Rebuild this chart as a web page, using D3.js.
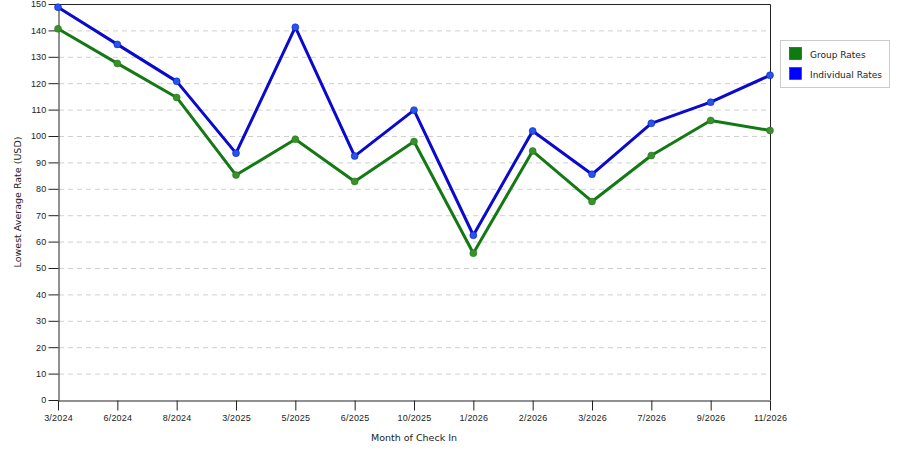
<!DOCTYPE html>
<html>
<head>
<meta charset="utf-8">
<script src="https://cdn.jsdelivr.net/npm/d3@7"></script>
<style>
  body { margin: 0; background: #fff; }
  svg { display: block; font-family: "DejaVu Sans", Verdana, sans-serif; }
  .tick text { font-size: 9px; fill: #222; letter-spacing: 0.2px; }
  .axes-label { font-size: 9.5px; fill: #222; }
  .grid line { stroke: #d0d0d0; stroke-dasharray: 5,4; }
</style>
</head>
<body>
<svg id="chart"></svg>
<script>
// values
const months = ["3/2024", "6/2024", "8/2024", "3/2025", "5/2025", "6/2025", "10/2025",
                "1/2026", "2/2026", "3/2026", "7/2026", "9/2026", "11/2026"];
const groupRates = [140.6, 127.5, 114.6, 85.2, 98.8, 82.8, 97.9, 55.6, 94.3, 75.2, 92.6, 105.9, 102.1];
const individualRates = [148.8, 134.7, 120.7, 93.5, 141.2, 92.4, 109.8, 62.4, 101.9, 85.5, 104.8, 112.8, 123];
const yTicks = d3.range(0, 151, 10);
const seriesNames = ["Group Rates", "Individual Rates"];

const width = 900, height = 450;
const margin = { top: 4, right: 130, bottom: 50, left: 58 };

const svg = d3.select("#chart")
    .attr("width", width)
    .attr("height", height);

const x = d3.scalePoint()
    .domain(months)
    .range([margin.left, width - margin.right]);

const y = d3.scaleLinear()
    .domain([0, 150])
    .range([height - margin.bottom, margin.top]);

// dashed grid
svg.append("g")
    .attr("class", "grid")
    .selectAll("line")
    .data(yTicks.filter(d => d > 0 && d < 150))
    .join("line")
    .attr("x1", margin.left + 1)
    .attr("x2", width - margin.right - 1)
    .attr("y1", d => y(d) + 0.5)
    .attr("y2", d => y(d) + 0.5);

// frame (top + right)
svg.append("path")
    .attr("fill", "none")
    .attr("stroke", "#222")
    .attr("d", `M${margin.left},${y(150) + 0.5}H${width - margin.right + 0.5}V${y(0)}`);

const xAxis = g => g
    .attr("transform", `translate(0,${y(0) + 0.5})`)
    .call(d3.axisBottom(x).tickSize(10).tickPadding(4).tickSizeOuter(0))
    .call(g => g.select(".domain").attr("stroke", "#222"))
    .call(g => g.selectAll(".tick line").attr("stroke", "#222"));

const yAxis = g => g
    .attr("transform", `translate(${margin.left + 0.5},0)`)
    .call(d3.axisLeft(y).tickValues(yTicks).tickSize(10).tickPadding(2).tickSizeOuter(0))
    .call(g => g.select(".domain").attr("stroke", "#222"))
    .call(g => g.selectAll(".tick line").attr("stroke", "#222"));

svg.append("g").call(xAxis);
svg.append("g").call(yAxis);

svg.append("text")
    .attr("class", "axes-label")
    .attr("x", (margin.left + width - margin.right) / 2)
    .attr("y", 441)
    .attr("text-anchor", "middle")
    .text("Month of Check In");

svg.append("text")
    .attr("class", "axes-label")
    .attr("transform", `translate(21,${(y(0) + y(150)) / 2}) rotate(-90)`)
    .attr("text-anchor", "middle")
    .text("Lowest Average Rate (USD)");

const series = [
    { name: seriesNames[0], values: groupRates, line: "#137a13", dot: "#3c8f2a", swatch: "#0f7a0f" },
    { name: seriesNames[1], values: individualRates, line: "#0a0acc", dot: "#2456e8", swatch: "#0000ff" }
];

const line = d3.line()
    .x((d, i) => x(months[i]))
    .y(d => y(d));

series.forEach(s => {
    svg.append("path")
        .datum(s.values)
        .attr("fill", "none")
        .attr("stroke", s.line)
        .attr("stroke-width", 3)
        .attr("stroke-linejoin", "round")
        .attr("d", line);

    svg.append("g")
        .selectAll("circle")
        .data(s.values)
        .join("circle")
        .attr("cx", (d, i) => x(months[i]))
        .attr("cy", d => y(d))
        .attr("r", 3.5)
        .attr("fill", s.dot)
        .attr("stroke", s.line)
        .attr("stroke-opacity", 0.5)
        .attr("stroke-width", 1);
});

// legend
const legend = svg.append("g").attr("transform", "translate(780,40)");
legend.append("rect")
    .attr("x", 0.5).attr("y", 0.5)
    .attr("width", 109).attr("height", 47)
    .attr("fill", "#fff")
    .attr("stroke", "#ccc");

series.forEach((s, i) => {
    legend.append("rect")
        .attr("x", 9.5).attr("y", 7.5 + i * 20)
        .attr("width", 12).attr("height", 12)
        .attr("fill", s.swatch)
        .attr("stroke", "#333")
        .attr("stroke-width", 0.6);
    legend.append("text")
        .attr("class", "axes-label")
        .attr("x", 30)
        .attr("y", 17.5 + i * 20)
        .style("font-size", "9px")
        .text(s.name);
});
</script>
</body>
</html>
